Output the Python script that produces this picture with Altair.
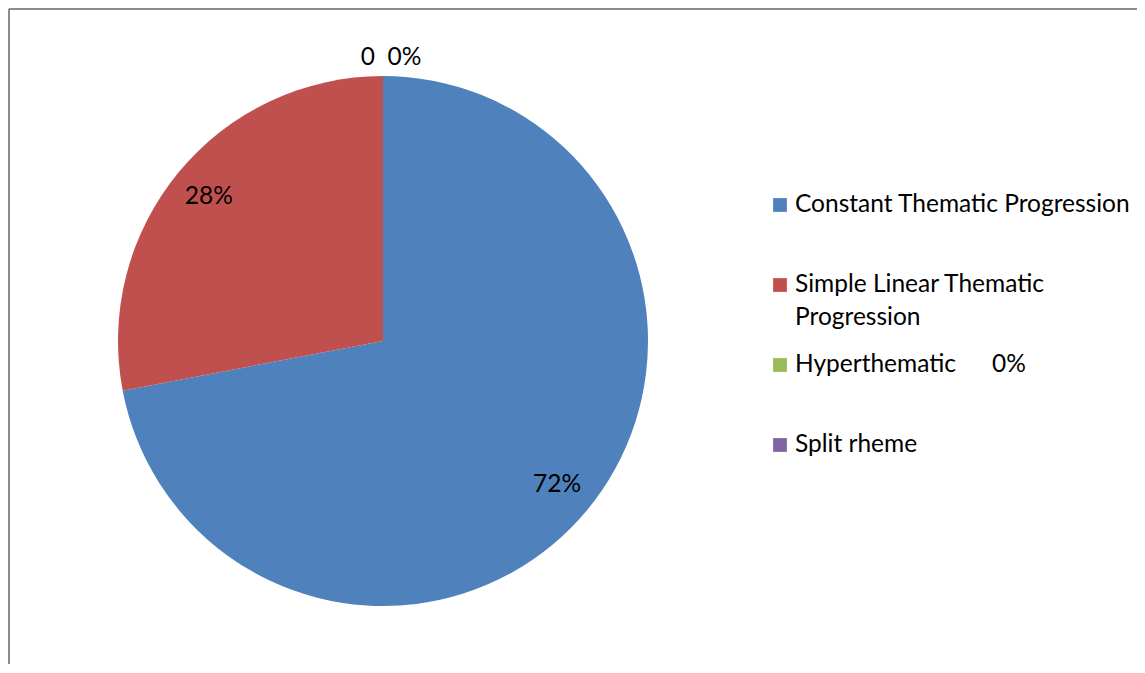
import altair as alt
import pandas as pd

categories = ["Constant Thematic Progression", "Simple Linear Thematic Progression", "Hyperthematic", "Split rheme"]
legend_text = ["Constant Thematic Progression", "Simple Linear Thematic", "Hyperthematic", "Split rheme"]
values = [72, 28, 0, 0]
slice_labels = ["72%", "28%", "", ""]
colors = ["#4F81BD", "#C0504D", "#9BBB59", "#8064A2"]

df = pd.DataFrame({
    "cat": categories,
    "value": values,
    "idx": list(range(len(categories))),
    "lbl": slice_labels,
    "leg": legend_text,
})

FONT = "Lato"
FS = 24.5
CX, CY, R = 375, 333, 265

color = alt.Color("cat:N", scale=alt.Scale(domain=categories, range=colors), legend=None)
theta = alt.Theta("value:Q", stack=True)
order = alt.Order("idx:Q")

base = alt.Chart(df)

pie = base.mark_arc(radius=R).encode(
    theta=theta, color=color, order=order,
    x=alt.value(CX), y=alt.value(CY),
)

pie_labels = base.mark_text(radius=226, font=FONT, fontSize=FS, color="black").encode(
    theta=theta, order=order, text="lbl:N",
    x=alt.value(CX), y=alt.value(CY),
)

top_label = base.transform_filter(alt.datum.cat == "Split rheme").mark_text(
    radius=283, font=FONT, fontSize=FS, color="black", dx=8
).encode(
    theta=theta, order=order, text=alt.value("0\u00a0\u00a00%"),
    x=alt.value(CX), y=alt.value(CY),
)

ypos = alt.Y("cat:N", sort=categories, scale=alt.Scale(range=[197, 437], padding=0), axis=None)

leg_sym = base.mark_square(size=190, opacity=1).encode(
    x=alt.value(772), y=ypos, color=color,
)
leg_txt = base.mark_text(align="left", baseline="middle", font=FONT, fontSize=FS, color="black").encode(
    x=alt.value(787), y=ypos, text="leg:N",
)
leg_txt2 = base.transform_filter(alt.datum.cat == "Simple Linear Thematic Progression").mark_text(
    align="left", baseline="middle", font=FONT, fontSize=FS, color="black", dy=33
).encode(
    x=alt.value(787), y=ypos, text=alt.value("Progression"),
)
leg_pct = base.transform_filter(alt.datum.cat == "Hyperthematic").mark_text(
    align="left", baseline="middle", font=FONT, fontSize=FS, color="black"
).encode(
    x=alt.value(984), y=ypos, text=alt.value("0%"),
)

border_left = base.mark_rule(color="#8c8c8c", strokeWidth=2).encode(
    x=alt.value(1), y=alt.value(1), y2=alt.value(700),
)
border_top = base.mark_rule(color="#8c8c8c", strokeWidth=2).encode(
    x=alt.value(1), x2=alt.value(1200), y=alt.value(1),
)

chart = alt.layer(
    pie, pie_labels, top_label, leg_sym, leg_txt, leg_txt2, leg_pct, border_left, border_top
).properties(
    width=1129, height=656, autosize=alt.AutoSizeParams(type="none"), padding=0,
).configure_view(stroke=None).configure(background="white")

chart.save("out.html", embed_options={"renderer": "svg", "actions": False})
